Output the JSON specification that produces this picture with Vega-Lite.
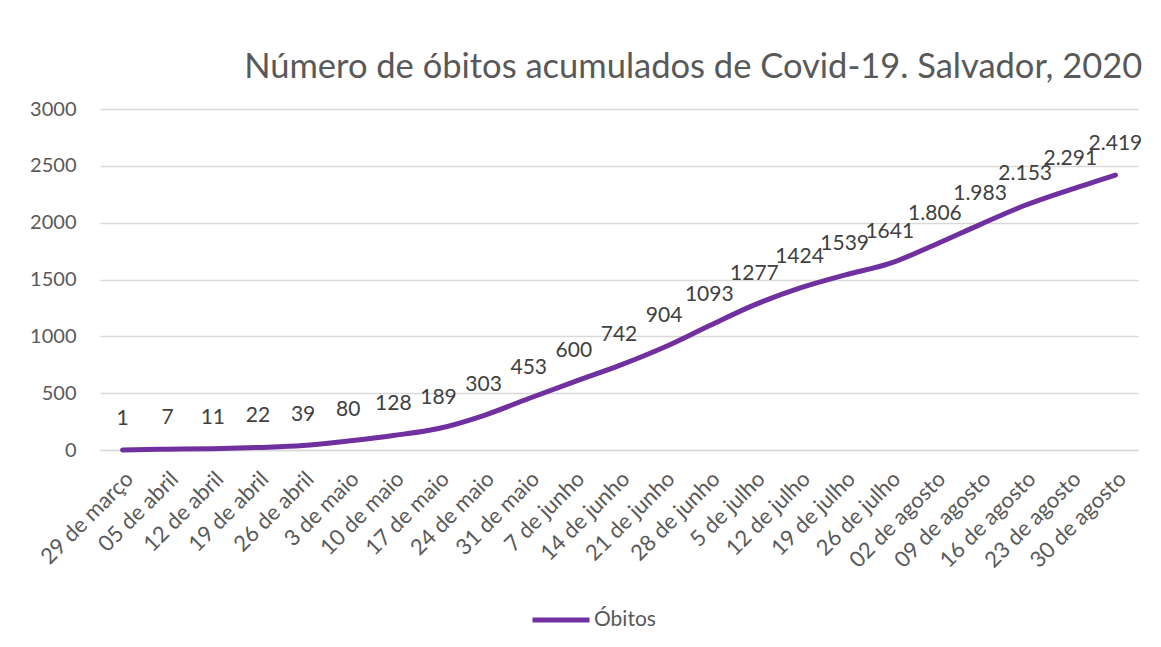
{
  "$schema": "https://vega.github.io/schema/vega-lite/v6.json",
  "autosize": {"type": "none"},
  "width": 1038,
  "height": 341,
  "padding": {"left": 100, "top": 109, "right": 23, "bottom": 197},
  "background": "white",
  "config": {"font": "Lato", "view": {"stroke": null}},
  "title": {
    "text": "Número de óbitos acumulados de Covid-19. Salvador, 2020",
    "anchor": "end",
    "fontSize": 34.5,
    "fontWeight": "normal",
    "color": "#595959",
    "offset": 14
  },
  "data": {
    "values": [
      {"data": "29 de março", "obitos": 1, "label": "1"},
      {"data": "05 de abril", "obitos": 7, "label": "7"},
      {"data": "12 de abril", "obitos": 11, "label": "11"},
      {"data": "19 de abril", "obitos": 22, "label": "22"},
      {"data": "26 de abril", "obitos": 39, "label": "39"},
      {"data": "3 de maio", "obitos": 80, "label": "80"},
      {"data": "10 de maio", "obitos": 128, "label": "128"},
      {"data": "17 de maio", "obitos": 189, "label": "189"},
      {"data": "24 de maio", "obitos": 303, "label": "303"},
      {"data": "31 de maio", "obitos": 453, "label": "453"},
      {"data": "7 de junho", "obitos": 600, "label": "600"},
      {"data": "14 de junho", "obitos": 742, "label": "742"},
      {"data": "21 de junho", "obitos": 904, "label": "904"},
      {"data": "28 de junho", "obitos": 1093, "label": "1093"},
      {"data": "5 de julho", "obitos": 1277, "label": "1277"},
      {"data": "12 de julho", "obitos": 1424, "label": "1424"},
      {"data": "19 de julho", "obitos": 1539, "label": "1539"},
      {"data": "26 de julho", "obitos": 1641, "label": "1641"},
      {"data": "02 de agosto", "obitos": 1806, "label": "1.806"},
      {"data": "09 de agosto", "obitos": 1983, "label": "1.983"},
      {"data": "16 de agosto", "obitos": 2153, "label": "2.153"},
      {"data": "23 de agosto", "obitos": 2291, "label": "2.291"},
      {"data": "30 de agosto", "obitos": 2419, "label": "2.419"}
    ]
  },
  "encoding": {
    "x": {
      "field": "data",
      "type": "nominal",
      "sort": null,
      "scale": {"type": "band"},
      "axis": {
        "title": null,
        "labelAngle": -45,
        "labelFontSize": 22,
        "labelColor": "#595959",
        "ticks": false,
        "domainColor": "#d9d9d9",
        "domainWidth": 1.5,
        "labelPadding": 18
      }
    },
    "y": {
      "field": "obitos",
      "type": "quantitative",
      "scale": {"domain": [0, 3000]},
      "axis": {
        "title": null,
        "format": "d",
        "values": [0, 500, 1000, 1500, 2000, 2500, 3000],
        "labelFontSize": 20,
        "labelColor": "#595959",
        "labelPadding": 24,
        "ticks": false,
        "domain": false,
        "gridColor": "#d9d9d9",
        "gridWidth": 1.5
      }
    }
  },
  "layer": [
    {
      "mark": {"type": "line", "strokeWidth": 5, "interpolate": "monotone", "strokeCap": "round"},
      "encoding": {
        "color": {
          "datum": "Óbitos",
          "scale": {"range": ["#7030A0"]},
          "legend": {
            "title": null,
            "orient": "none",
            "legendX": 430,
            "legendY": 480,
            "symbolType": "stroke",
            "symbolStrokeWidth": 5,
            "symbolSize": 3249,
            "labelFontSize": 21,
            "labelColor": "#595959",
            "labelOffset": 2
          }
        }
      }
    },
    {
      "mark": {"type": "text", "fontSize": 21, "color": "#404040", "dy": -31, "baseline": "middle"},
      "encoding": {"text": {"field": "label"}}
    }
  ]
}
